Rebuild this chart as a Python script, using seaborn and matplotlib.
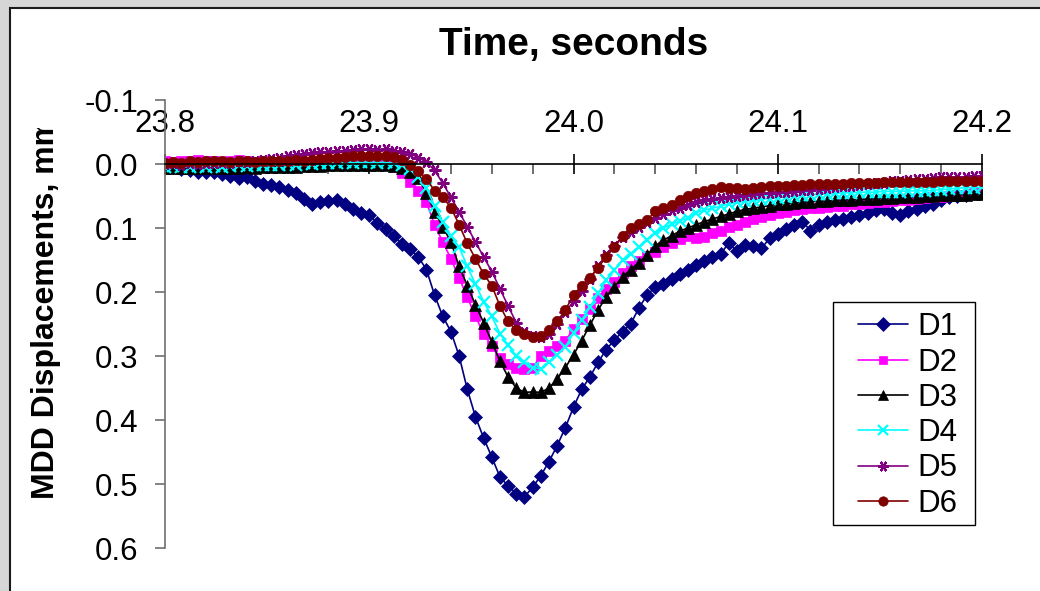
import numpy as np
import pandas as pd
import matplotlib
matplotlib.use("Agg")
import matplotlib.pyplot as plt
from matplotlib.patches import Rectangle
from matplotlib.ticker import MultipleLocator, FixedLocator, FormatStrFormatter
import seaborn as sns

# sample times, seconds (one sample every 4 ms)
time_s = np.round(np.linspace(23.8, 24.2, 101), 3)

series_names = ["D1", "D2", "D3", "D4", "D5", "D6"]

d1 = [0.003, 0.005, 0.008, 0.010, 0.012, 0.013, 0.012, 0.016, 0.018, 0.022,
      0.021, 0.027, 0.031, 0.033, 0.036, 0.041, 0.046, 0.055, 0.062, 0.060,
      0.058, 0.056, 0.062, 0.071, 0.076, 0.080, 0.092, 0.101, 0.112, 0.125,
      0.133, 0.145, 0.165, 0.205, 0.238, 0.262, 0.300, 0.352, 0.395, 0.428,
      0.458, 0.489, 0.503, 0.515, 0.520, 0.505, 0.487, 0.465, 0.440, 0.412,
      0.380, 0.352, 0.333, 0.310, 0.290, 0.275, 0.262, 0.250, 0.225, 0.205,
      0.192, 0.188, 0.180, 0.172, 0.166, 0.158, 0.152, 0.146, 0.140, 0.124,
      0.136, 0.126, 0.128, 0.132, 0.116, 0.110, 0.102, 0.096, 0.090, 0.104,
      0.096, 0.090, 0.088, 0.086, 0.083, 0.080, 0.076, 0.072, 0.070, 0.076,
      0.080, 0.074, 0.070, 0.066, 0.062, 0.056, 0.052, 0.050, 0.048, 0.046,
      0.044]

d2 = [-0.004, -0.003, -0.005, -0.004, -0.006, -0.005, -0.004, -0.003, -0.005, -0.006,
      -0.004, -0.003, -0.004, -0.003, -0.002, -0.003, -0.002, -0.001, 0.000, -0.002,
      -0.001, 0.000, 0.001, 0.000, 0.001, 0.001, 0.000, 0.001, 0.004, 0.014,
      0.028, 0.042, 0.060, 0.095, 0.122, 0.148, 0.178, 0.208, 0.238, 0.265,
      0.285, 0.303, 0.313, 0.318, 0.320, 0.318, 0.300, 0.292, 0.285, 0.276,
      0.258, 0.242, 0.226, 0.210, 0.196, 0.184, 0.170, 0.160, 0.152, 0.143,
      0.137, 0.130, 0.124, 0.117, 0.112, 0.116, 0.114, 0.108, 0.104, 0.099,
      0.095, 0.090, 0.086, 0.083, 0.080, 0.077, 0.075, 0.072, 0.070, 0.069,
      0.068, 0.067, 0.066, 0.065, 0.063, 0.062, 0.061, 0.060, 0.060, 0.058,
      0.057, 0.056, 0.054, 0.053, 0.052, 0.051, 0.050, 0.049, 0.048, 0.046,
      0.045]

d3 = [0.006, 0.006, 0.007, 0.006, 0.007, 0.006, 0.006, 0.007, 0.006, 0.006,
      0.005, 0.006, 0.005, 0.005, 0.004, 0.004, 0.004, 0.003, 0.003, 0.003,
      0.002, 0.002, 0.002, 0.001, 0.002, 0.001, 0.001, 0.002, 0.003, 0.006,
      0.012, 0.022, 0.045, 0.075, 0.098, 0.122, 0.160, 0.190, 0.220, 0.248,
      0.278, 0.308, 0.333, 0.350, 0.357, 0.356, 0.357, 0.350, 0.336, 0.318,
      0.298, 0.276, 0.252, 0.228, 0.208, 0.192, 0.176, 0.165, 0.154, 0.142,
      0.128, 0.119, 0.112, 0.105, 0.100, 0.095, 0.090, 0.086, 0.082, 0.078,
      0.074, 0.071, 0.069, 0.067, 0.065, 0.063, 0.062, 0.061, 0.060, 0.059,
      0.058, 0.058, 0.057, 0.056, 0.056, 0.055, 0.055, 0.054, 0.053, 0.053,
      0.052, 0.052, 0.051, 0.050, 0.050, 0.049, 0.049, 0.048, 0.048, 0.047,
      0.047]

d4 = [0.004, 0.003, 0.004, 0.005, 0.003, 0.004, 0.003, 0.004, 0.003, 0.002,
      0.003, 0.002, 0.001, 0.002, 0.001, 0.000, 0.001, -0.001, 0.000, -0.002,
      -0.001, -0.002, -0.003, -0.002, -0.003, -0.003, -0.002, -0.003, -0.001, 0.002,
      0.008, 0.020, 0.038, 0.065, 0.090, 0.112, 0.130, 0.160, 0.188, 0.215,
      0.238, 0.265, 0.283, 0.300, 0.310, 0.318, 0.320, 0.310, 0.298, 0.286,
      0.264, 0.244, 0.224, 0.202, 0.182, 0.166, 0.150, 0.140, 0.130, 0.118,
      0.108, 0.100, 0.094, 0.089, 0.084, 0.076, 0.072, 0.069, 0.066, 0.062,
      0.060, 0.058, 0.057, 0.055, 0.054, 0.053, 0.051, 0.050, 0.049, 0.048,
      0.047, 0.047, 0.046, 0.045, 0.045, 0.044, 0.044, 0.044, 0.043, 0.043,
      0.043, 0.042, 0.042, 0.042, 0.041, 0.040, 0.039, 0.038, 0.037, 0.037,
      0.036]

d5 = [0.000, -0.001, 0.001, -0.002, 0.000, -0.002, -0.001, -0.003, -0.002, -0.004,
      -0.003, -0.005, -0.006, -0.008, -0.010, -0.012, -0.014, -0.016, -0.017, -0.018,
      -0.019, -0.020, -0.021, -0.022, -0.023, -0.023, -0.022, -0.023, -0.021, -0.019,
      -0.016, -0.010, -0.003, 0.010, 0.030, 0.052, 0.075, 0.098, 0.122, 0.145,
      0.168, 0.195, 0.222, 0.248, 0.262, 0.268, 0.270, 0.265, 0.250, 0.232,
      0.214, 0.198, 0.180, 0.160, 0.142, 0.128, 0.114, 0.106, 0.098, 0.090,
      0.084, 0.078, 0.072, 0.068, 0.064, 0.060, 0.057, 0.055, 0.053, 0.051,
      0.050, 0.048, 0.047, 0.046, 0.045, 0.044, 0.043, 0.042, 0.041, 0.040,
      0.039, 0.038, 0.036, 0.035, 0.034, 0.033, 0.031, 0.030, 0.029, 0.027,
      0.026, 0.025, 0.024, 0.023, 0.022, 0.021, 0.021, 0.020, 0.020, 0.019,
      0.019]

d6 = [-0.002, -0.003, -0.002, -0.004, -0.003, -0.005, -0.004, -0.004, -0.003, -0.005,
      -0.004, -0.003, -0.005, -0.004, -0.004, -0.005, -0.006, -0.005, -0.007, -0.008,
      -0.009, -0.010, -0.011, -0.012, -0.013, -0.013, -0.012, -0.013, -0.011, -0.006,
      0.002, 0.011, 0.023, 0.042, 0.052, 0.068, 0.095, 0.124, 0.148, 0.172,
      0.190, 0.222, 0.246, 0.260, 0.266, 0.270, 0.268, 0.260, 0.246, 0.228,
      0.205, 0.190, 0.178, 0.162, 0.145, 0.130, 0.112, 0.100, 0.094, 0.088,
      0.074, 0.068, 0.064, 0.057, 0.050, 0.045, 0.042, 0.039, 0.036, 0.037,
      0.038, 0.039, 0.038, 0.036, 0.035, 0.034, 0.034, 0.033, 0.033, 0.032,
      0.032, 0.031, 0.031, 0.031, 0.030, 0.030, 0.029, 0.029, 0.028, 0.028,
      0.028, 0.028, 0.028, 0.028, 0.028, 0.027, 0.027, 0.027, 0.026, 0.026,
      0.026]

x_ticks = [23.8, 23.9, 24.0, 24.1, 24.2]

colors = {"D1": "#000080", "D2": "#ff00ff", "D3": "#000000",
          "D4": "#00ffff", "D5": "#800080", "D6": "#800000"}
markers = {"D1": "D", "D2": "s", "D3": "^", "D4": "x", "D5": (6, 2, 90), "D6": "o"}
msizes = {"D1": 7.5, "D2": 7.0, "D3": 8.0, "D4": 8.0, "D5": 8.5, "D6": 7.5}

df = pd.DataFrame({"time": np.tile(time_s, 6),
                   "disp": np.concatenate([d1, d2, d3, d4, d5, d6]),
                   "series": np.repeat(series_names, len(time_s))})

sns.set_theme(style="white")
plt.rcParams["font.family"] = ["Liberation Sans", "DejaVu Sans"]
plt.rcParams["text.color"] = "black"
plt.rcParams["xtick.color"] = "black"
plt.rcParams["ytick.color"] = "black"
plt.rcParams["axes.labelcolor"] = "black"

fig = plt.figure(figsize=(10.4, 5.91), dpi=100)
fig.patch.set_facecolor("#d6d6d6")
# white chart area with dark border
fig.patches.append(Rectangle((10 / 1040, -0.01), 1.0, 1.01 - 8 / 591, transform=fig.transFigure,
                             facecolor="white", edgecolor="#1a1a1a", linewidth=1.5, zorder=-5))

ax = fig.add_axes([165 / 1040, 1 - 548 / 591, 817 / 1040, 448 / 591])
ax.patch.set_alpha(0)

sns.lineplot(data=df, x="time", y="disp", hue="series", hue_order=series_names,
             palette=colors, linewidth=1.2, legend=False, ax=ax)

# Excel-like markers, each in its series colour
for line, name in zip(ax.lines, series_names):
    line.set_marker(markers[name])
    line.set_markeredgecolor(colors[name])
    line.set_markerfacecolor(colors[name])
    line.set_markersize(msizes[name])
    line.set_markeredgewidth(1.6 if name in ("D4", "D5") else 0.5)

ax.set_xlim(23.8, 24.2)
ax.set_ylim(0.6, -0.1)

# spines: y axis on left, x axis line crossing at 0
for s in ("top", "right"):
    ax.spines[s].set_visible(False)
ax.spines["left"].set_color("#707070")
ax.spines["left"].set_linewidth(1.2)
ax.spines["bottom"].set_position(("data", 0.0))
ax.spines["bottom"].set_color("black")
ax.spines["bottom"].set_linewidth(1.2)

ax.yaxis.set_major_locator(MultipleLocator(0.1))
ax.yaxis.set_major_formatter(FormatStrFormatter("%.1f"))
ax.tick_params(axis="y", direction="out", length=7, width=1.2, color="#707070",
               labelsize=22.5, labelcolor="black", pad=12, left=True)

ax.xaxis.set_major_locator(FixedLocator(x_ticks))
ax.xaxis.set_minor_locator(MultipleLocator(0.02))
ax.tick_params(axis="x", which="major", direction="inout", length=14, width=1.2,
               color="black", labelbottom=False, bottom=True)
ax.tick_params(axis="x", which="minor", direction="out", length=7, width=1.2,
               color="#555555", bottom=True)

# x tick labels sit near the top of the plot area
sec = ax.secondary_xaxis((548 - 139) / 448)
sec.xaxis.set_major_locator(FixedLocator(x_ticks))
sec.xaxis.set_major_formatter(FormatStrFormatter("%.1f"))
sec.tick_params(axis="x", length=0, pad=0, labelsize=22.5, labelcolor="black")
for s in sec.spines.values():
    s.set_visible(False)
sec.xaxis.set_ticks_position("top")

ax.set_xlabel("")
fig.text(574 / 1040, 1 - 45 / 591, "Time, seconds", ha="center", va="center",
         fontsize=28, fontweight="bold", color="black")

ylab = ax.set_ylabel("MDD Displacements, mm", fontsize=23, fontweight="bold",
                     va="center", ha="center", color="black")
ax.yaxis.set_label_coords((46 - 165) / 817, (548 - 308) / 448)
ylab.set_clip_path(Rectangle((0, 0), 1, 1 - 128 / 591, transform=fig.transFigure))

# legend: entries without frame, frame drawn as an Excel-style box behind them
ax.add_patch(Rectangle((833 / 1040, 1 - 525 / 591), 142 / 1040, 223 / 591,
                       transform=fig.transFigure, facecolor="white",
                       edgecolor="black", linewidth=1.0, zorder=4, clip_on=False))
handles = list(ax.lines[:6])
leg = ax.legend(handles, series_names, loc="upper left",
                bbox_to_anchor=(852 / 1040, 1 - 306 / 591), bbox_transform=fig.transFigure,
                fontsize=22.5, frameon=False,
                handlelength=1.6, handletextpad=0.3, labelspacing=0.17,
                borderpad=0.2, borderaxespad=0, markerscale=0.9)
leg.set_zorder(5)
for t in leg.get_texts():
    t.set_color("black")

fig.savefig("out.png", dpi=100, facecolor=fig.get_facecolor())
